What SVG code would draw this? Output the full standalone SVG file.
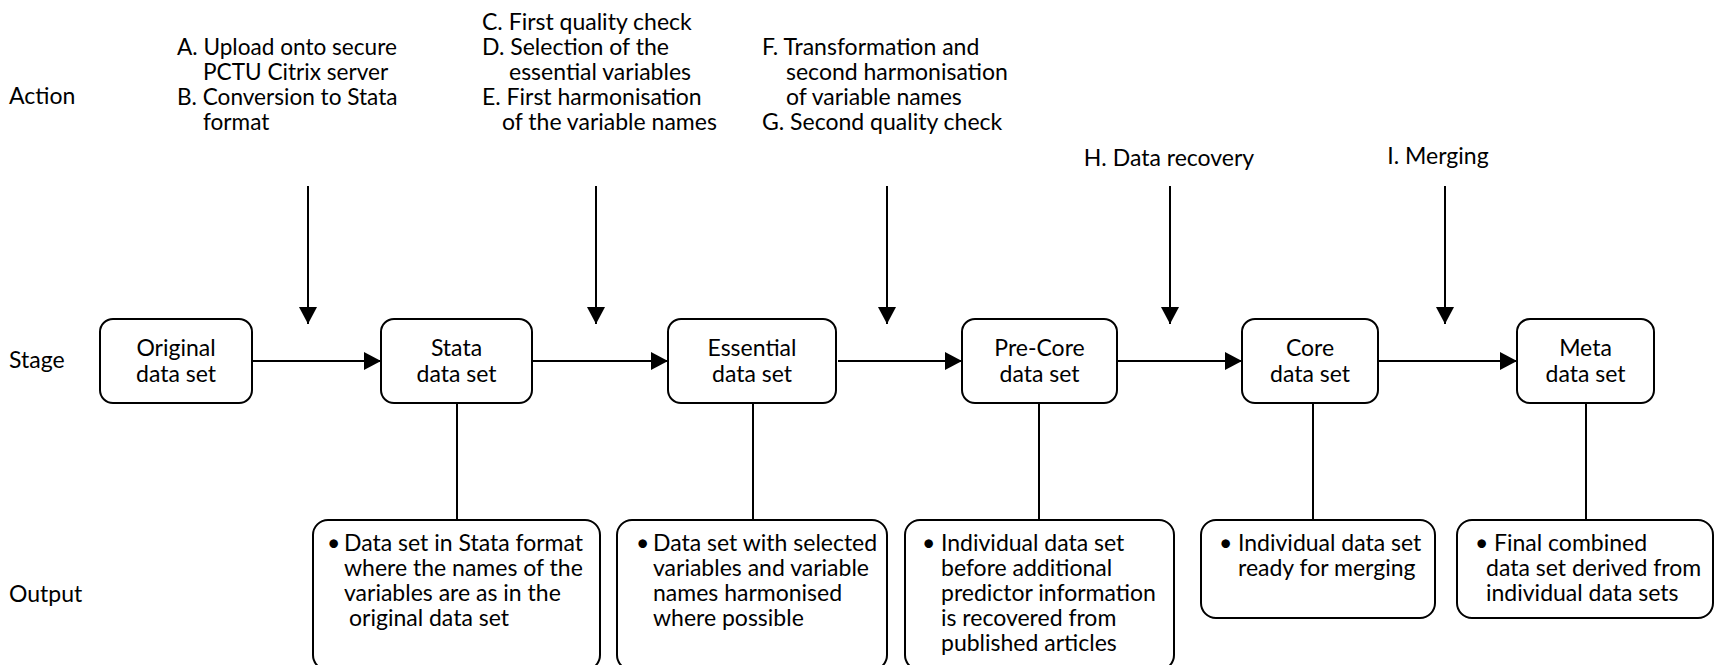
<svg xmlns="http://www.w3.org/2000/svg" width="1715" height="665" viewBox="0 0 1715 665">
<style>
text{font-family:Lato,"Open Sans","Liberation Sans",sans-serif;font-size:23px;fill:#000}
.a{font-size:22.6px}
.box{fill:#fff;stroke:#000;stroke-width:2}
.ln{stroke:#000;stroke-width:2;fill:none}
.c{text-anchor:middle}
</style>
<defs>
<marker id="ah" markerUnits="userSpaceOnUse" markerWidth="18" markerHeight="18" refX="17" refY="9" orient="auto">
<path d="M0,0 L17,9 L0,18 z" fill="#000"/>
</marker>
</defs>
<g id="row-labels">
<text x="9" y="104">Action</text>
<text x="9" y="368">Stage</text>
<text x="9" y="602">Output</text>
</g>
<g id="actions">
<text class="a" x="177" y="55">A. Upload onto secure</text>
<text class="a" x="203" y="80">PCTU Citrix server</text>
<text class="a" x="177" y="105">B. Conversion to Stata</text>
<text class="a" x="203" y="130">format</text>
<text x="482" y="30">C. First quality check</text>
<text x="482" y="55">D. Selection of the</text>
<text x="509" y="80">essential variables</text>
<text x="482" y="105">E. First harmonisation</text>
<text x="502" y="130">of the variable names</text>
<text x="762" y="55">F. Transformation and</text>
<text x="786" y="80">second harmonisation</text>
<text x="786" y="105">of variable names</text>
<text x="762" y="130">G. Second quality check</text>
<text x="1169" y="166" class="c">H. Data recovery</text>
<text x="1438" y="164" class="c">I. Merging</text>
</g>
<g id="connectors">
<line class="ln" x1="308" y1="186" x2="308" y2="324" marker-end="url(#ah)"/>
<line class="ln" x1="596" y1="186" x2="596" y2="324" marker-end="url(#ah)"/>
<line class="ln" x1="887" y1="186" x2="887" y2="324" marker-end="url(#ah)"/>
<line class="ln" x1="1170" y1="186" x2="1170" y2="324" marker-end="url(#ah)"/>
<line class="ln" x1="1445" y1="186" x2="1445" y2="324" marker-end="url(#ah)"/>
<line class="ln" x1="252" y1="361" x2="381" y2="361" marker-end="url(#ah)"/>
<line class="ln" x1="532" y1="361" x2="668" y2="361" marker-end="url(#ah)"/>
<line class="ln" x1="838" y1="361" x2="962" y2="361" marker-end="url(#ah)"/>
<line class="ln" x1="1117" y1="361" x2="1242" y2="361" marker-end="url(#ah)"/>
<line class="ln" x1="1378" y1="361" x2="1517" y2="361" marker-end="url(#ah)"/>
<line class="ln" x1="457" y1="403" x2="457" y2="520"/>
<line class="ln" x1="753" y1="403" x2="753" y2="520"/>
<line class="ln" x1="1039" y1="403" x2="1039" y2="520"/>
<line class="ln" x1="1313" y1="403" x2="1313" y2="520"/>
<line class="ln" x1="1586" y1="403" x2="1586" y2="520"/>
</g>
<g id="stage-original">
<rect class="box" x="100" y="319" width="152" height="84" rx="13"/>
<text x="176" y="356" class="c">Original</text>
<text x="176" y="382" class="c">data set</text>
</g>
<g id="stage-stata">
<rect class="box" x="381" y="319" width="151" height="84" rx="13"/>
<text x="456.5" y="356" class="c">Stata</text>
<text x="456.5" y="382" class="c">data set</text>
</g>
<g id="stage-essential">
<rect class="box" x="668" y="319" width="168" height="84" rx="13"/>
<text x="752" y="356" class="c">Essential</text>
<text x="752" y="382" class="c">data set</text>
</g>
<g id="stage-precore">
<rect class="box" x="962" y="319" width="155" height="84" rx="13"/>
<text x="1039.5" y="356" class="c">Pre-Core</text>
<text x="1039.5" y="382" class="c">data set</text>
</g>
<g id="stage-core">
<rect class="box" x="1242" y="319" width="136" height="84" rx="13"/>
<text x="1310" y="356" class="c">Core</text>
<text x="1310" y="382" class="c">data set</text>
</g>
<g id="stage-meta">
<rect class="box" x="1517" y="319" width="137" height="84" rx="13"/>
<text x="1585.5" y="356" class="c">Meta</text>
<text x="1585.5" y="382" class="c">data set</text>
</g>
<g id="output-stata">
<rect class="box" x="313" y="520" width="287" height="150" rx="15"/>
<text x="327" y="551">•</text>
<text x="344" y="551">Data set in Stata format</text>
<text x="344" y="576">where the names of the</text>
<text x="344" y="601">variables are as in the</text>
<text x="349" y="626">original data set</text>
</g>
<g id="output-essential">
<rect class="box" x="617" y="520" width="270" height="150" rx="15"/>
<text x="636" y="551">•</text>
<text x="653" y="551">Data set with selected</text>
<text x="653" y="576">variables and variable</text>
<text x="653" y="601">names harmonised</text>
<text x="653" y="626">where possible</text>
</g>
<g id="output-precore">
<rect class="box" x="905" y="520" width="269" height="150" rx="15"/>
<text x="922" y="551">•</text>
<text x="941" y="551">Individual data set</text>
<text x="941" y="576">before additional</text>
<text x="941" y="601">predictor information</text>
<text x="941" y="626">is recovered from</text>
<text x="941" y="651">published articles</text>
</g>
<g id="output-core">
<rect class="box" x="1201" y="520" width="234" height="98" rx="15"/>
<text x="1219" y="551">•</text>
<text x="1238" y="551">Individual data set</text>
<text x="1238" y="576">ready for merging</text>
</g>
<g id="output-meta">
<rect class="box" x="1457" y="520" width="256" height="98" rx="15"/>
<text x="1475" y="551">•</text>
<text x="1494" y="551">Final combined</text>
<text x="1486" y="576">data set derived from</text>
<text x="1486" y="601">individual data sets</text>
</g>
</svg>
